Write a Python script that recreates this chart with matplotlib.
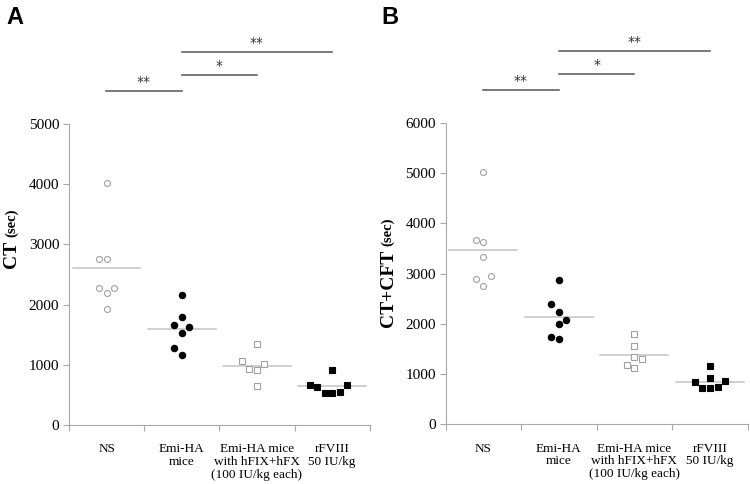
import numpy as np
import matplotlib
matplotlib.use("Agg")
import matplotlib.pyplot as plt
import matplotlib.transforms as mtransforms

# group labels (shared by both panels)
groups = ["NS", "Emi-HA\nmice", "Emi-HA mice\nwith hFIX+hFX\n(100 IU/kg each)", "rFVIII\n50 IU/kg"]

# panel A : CT (sec)
ct_ns = [4025, 2757, 2757, 2281, 2281, 2198, 1921]
ct_emi = [2154, 1789, 1661, 1628, 1534, 1279, 1163]
ct_fix = [1351, 1069, 1013, 925, 914, 642]
ct_rf = [914, 670, 670, 631, 537, 537, 543]

# panel B : CT+CFT (sec)
cft_ns = [5019, 3667, 3633, 3328, 2950, 2891, 2758]
cft_emi = [2871, 2400, 2234, 2075, 2009, 1731, 1703]
cft_fix = [1810, 1564, 1340, 1293, 1186, 1126]
cft_rf = [1160, 927, 841, 855, 716, 716, 736]

# horizontal slot of every dot (dot-plot spreading)
ct_slots = [[0, -1, 0, -1, 1, 0, 0],
            [0, 0, -1, 1, 0, -1, 0],
            [0, -2, 1, -1, 0, 0],
            [0, -3, 2, -2, -1, 0, 1]]
cft_slots = [[0, -1, 0, 0, 1, -1, 0],
             [0, -1, 0, 1, 0, -1, 0],
             [0, 0, 0, 1, -1, 0],
             [0, 0, -2, 2, -1, 0, 1]]

# significance comparisons (group i, group j, label)
comparisons = [(0, 1, "**"), (1, 2, "*"), (1, 3, "**")]

SERIF = "Liberation Serif"
SANS = "Liberation Sans"
AXCOL = "#a8a8a8"
OPEN = "#a0a0a0"
MEANCOL = "#c4c4c4"

marker_styles = [
    dict(marker="o", mfc="white", mec=OPEN, ms=4.3),
    dict(marker="o", mfc="black", mec="black", ms=4.6),
    dict(marker="s", mfc="white", mec=OPEN, ms=4.2),
    dict(marker="s", mfc="black", mec="black", ms=4.6),
]


def draw_panel(ax, data, slots, ymax, ystep, title_main, lab_y):
    for i, (vals, sl) in enumerate(zip(data, slots)):
        x = i + 1 + np.array(sl) * 0.1
        ax.plot(x, vals, ls="none", mew=0.8, **marker_styles[i], zorder=3)
        m = np.mean(vals)
        ax.plot([i + 1 - 0.45, i + 1 + 0.45], [m, m], color=MEANCOL, lw=1.1, zorder=2)

    ax.set_xlim(0.5, 4.5)
    ax.set_ylim(0, ymax)
    ax.set_yticks(np.arange(0, ymax + 1, ystep))
    for s in ["top", "right"]:
        ax.spines[s].set_visible(False)
    for s in ["left", "bottom"]:
        ax.spines[s].set_color(AXCOL)
        ax.spines[s].set_linewidth(0.8)

    ax.set_xticks([1, 2, 3, 4])
    ax.set_xticklabels(groups, fontfamily=SERIF, fontsize=9.5, linespacing=1.1, va="top")
    ax.set_xticks([0.5, 1.5, 2.5, 3.5, 4.5], minor=True)
    ax.tick_params(axis="x", which="major", length=0, pad=13)
    ax.tick_params(axis="x", which="minor", length=4, color=AXCOL, width=0.8)
    ax.tick_params(axis="y", length=4, color=AXCOL, width=0.8, pad=3, labelsize=11)
    for lab in ax.get_yticklabels():
        lab.set_fontfamily(SERIF)

    # y label: big bold name + smaller bold unit just above it
    t1 = ax.text(-0.19, lab_y, title_main, transform=ax.transAxes, rotation=90,
                 fontfamily=SERIF, fontweight="bold", fontsize=14,
                 ha="center", va="bottom")
    ax.annotate("(sec)", xy=(0.5, 1.0), xycoords=t1, xytext=(0, 3),
                textcoords="offset points", rotation=90,
                fontfamily=SERIF, fontweight="bold", fontsize=10.5,
                ha="center", va="bottom")

    trans = mtransforms.blended_transform_factory(ax.transData, ax.transAxes)
    levels = [1.11, 1.163, 1.239]
    for (i, j, lab), lv in zip(comparisons, levels):
        x0 = i + 1 - 0.01 if i == 0 else i + 1
        ax.plot([x0, j + 1], [lv, lv], color="#555555", lw=1.1,
                transform=trans, clip_on=False)
        ax.text((x0 + j + 1) / 2, lv + 0.006, lab, transform=trans,
                ha="center", va="bottom", fontsize=10, fontfamily="DejaVu Sans",
                color="#333333")
    return ax


fig = plt.figure(figsize=(7.5, 4.84), dpi=100)
axA = fig.add_axes([0.092, 0.122, 0.401, 0.622])
axB = fig.add_axes([0.594, 0.123, 0.403, 0.623])

draw_panel(axA, [ct_ns, ct_emi, ct_fix, ct_rf], ct_slots, 5000, 1000, "CT", 0.52)
draw_panel(axB, [cft_ns, cft_emi, cft_fix, cft_rf], cft_slots, 6000, 1000, "CT+CFT", 0.323)

fig.text(0.008, 0.988, "A", fontfamily=SANS, fontweight="bold", fontsize=17, va="top")
fig.text(0.508, 0.988, "B", fontfamily=SANS, fontweight="bold", fontsize=17, va="top")

fig.savefig("out.png", dpi=100)
